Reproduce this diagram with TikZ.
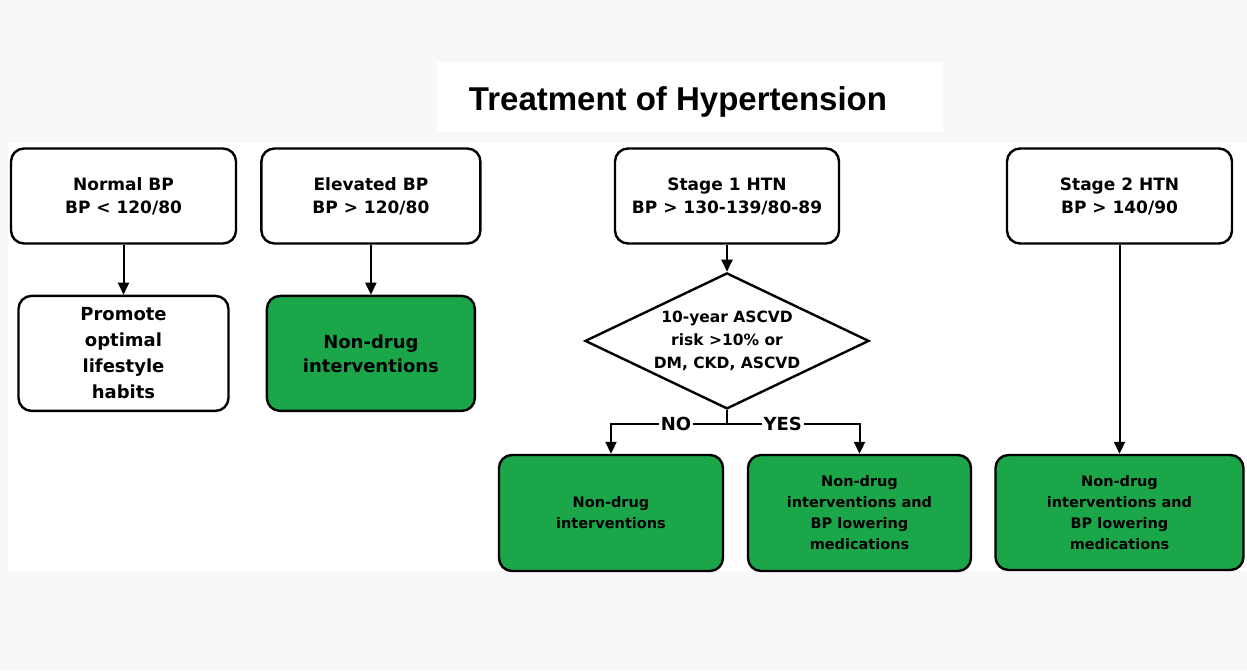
\documentclass[tikz,border=0pt]{standalone}
\usepackage{fontspec}
\setmainfont{DejaVu Sans}
\newfontfamily\titlefont{Liberation Sans}
\usetikzlibrary{positioning,arrows.meta,shapes.geometric}
\definecolor{bggray}{RGB}{248,248,248}
\definecolor{boxgreen}{RGB}{27,166,74}

\begin{document}
\begin{tikzpicture}[x=1pt,y=-1pt,
		box/.style={draw, line width=2.4pt, rounded corners=13pt, fill=white, minimum height=95pt, align=center, font=\bfseries\fontsize{17}{23}\selectfont},
		greenbox/.style={box, fill=boxgreen},
		decision/.style={draw, diamond, line width=2.4pt, fill=white, inner sep=0pt, minimum width=284pt, minimum height=136pt},
		arrow/.style={-{Triangle[length=12pt,width=11pt]}, line width=2pt},
		answer/.style={fill=white, inner sep=2pt, font=\bfseries\fontsize{18}{20}\selectfont},
		small/.style={font=\bfseries\fontsize{14.5}{21}\selectfont}
		]
		
		\useasboundingbox (0,0) rectangle (1247,670);
		\fill[bggray] (0,0) rectangle (1247,670);
		\fill[white] (8,143) rectangle (1247,571);
		\fill[white] (437,62) rectangle (943,132);
		
		\node[anchor=base, font=\titlefont\bfseries\fontsize{33}{36}\selectfont] (title) at (678,110) {Treatment of Hypertension};
		
		\node[box, minimum width=225pt] (normal) at (123.5,196) {Normal BP\\BP < 120/80};
		\node[box, minimum width=219pt, right=23pt of normal] (elevated) {Elevated BP\\BP > 120/80};
		\node[box, minimum width=224pt] (stage1) at (727,196) {Stage 1 HTN\\BP > 130-139/80-89};
		\node[box, minimum width=225pt] (stage2) at (1119.5,196) {Stage 2 HTN\\BP > 140/90};
		
		\node[box, minimum width=210pt, minimum height=115pt, below=50pt of normal, font=\bfseries\fontsize{18}{26}\selectfont] (promote) {Promote\\optimal\\lifestyle\\habits};
		\node[greenbox, minimum width=208pt, minimum height=115pt, below=50pt of elevated, font=\bfseries\fontsize{18}{24}\selectfont] (nondrug) {Non-drug\\interventions};
		
		\node[decision, below=27pt of stage1] (risk) {};
		\node[align=center, font=\bfseries\fontsize{15.5}{23}\selectfont] (risktext) at (risk) {10-year ASCVD\\risk >10\% or\\DM, CKD, ASCVD};
		\coordinate[below=14pt of risk.south] (split);
		
		\node[greenbox, small, minimum width=224pt, minimum height=116pt] (nodrug) at (611,513) {Non-drug\\interventions};
		\node[greenbox, small, minimum width=223pt, minimum height=116pt] (combo) at (859.5,513) {Non-drug\\interventions and\\BP lowering\\medications};
		\node[greenbox, small, minimum width=248pt, minimum height=115pt] (combotwo) at (1119.5,512.5) {Non-drug\\interventions and\\BP lowering\\medications};
		
		\draw[arrow] (normal) -- (promote);
		\draw[arrow] (elevated) -- (nondrug);
		\draw[arrow] (stage1) -- (risk);
		\draw[arrow] (stage2) -- (combotwo);
		
		\draw[line width=2pt] (risk.south) -- (split);
		\draw[arrow] (split) -| node[answer, pos=0.22] (no) {NO} (nodrug);
		\draw[arrow] (split) -| node[answer, pos=0.21] (yes) {YES} (combo);
		
	\end{tikzpicture}
\end{document}
